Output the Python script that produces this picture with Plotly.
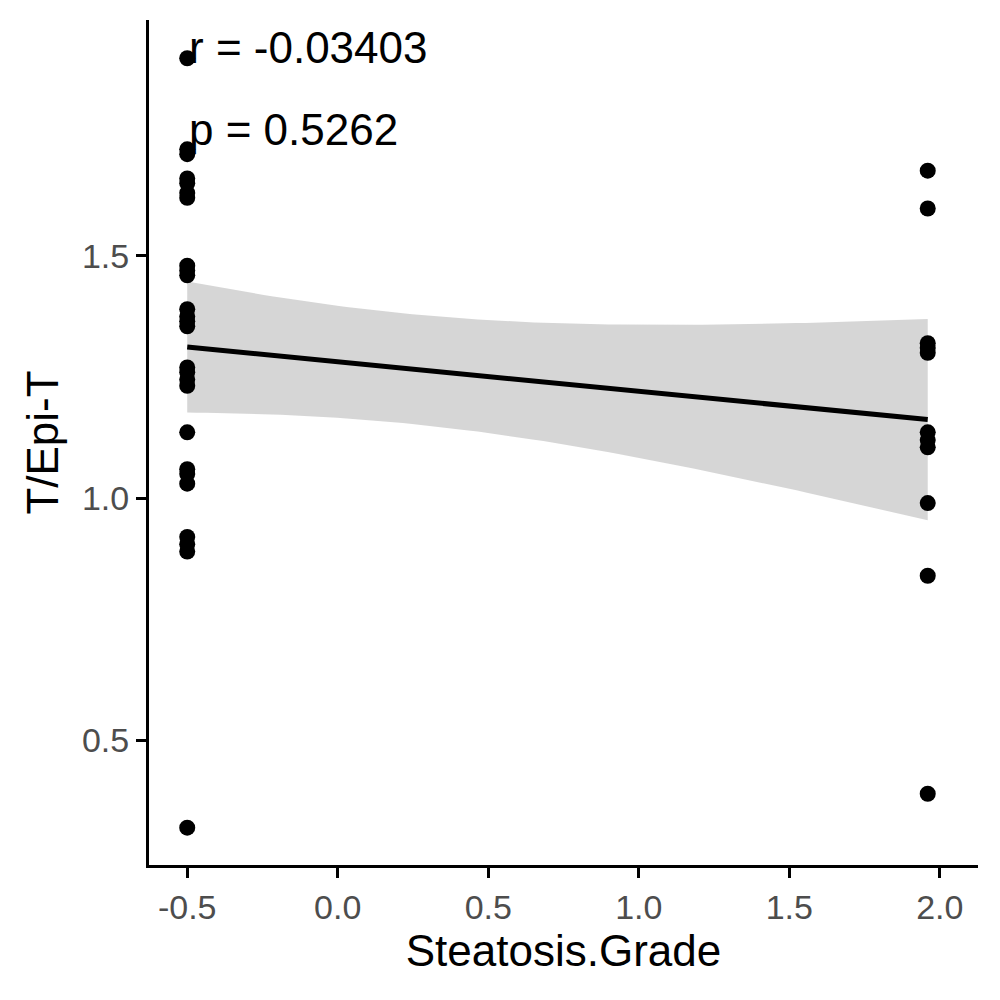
import numpy as np
import plotly.graph_objects as go

x_left = -0.5
x_right = 1.96
y_left = [1.908, 1.72, 1.71, 1.66, 1.65, 1.63, 1.62, 1.48, 1.47, 1.46, 1.39, 1.375, 1.365, 1.355,
          1.27, 1.26, 1.245, 1.232, 1.136, 1.06, 1.05, 1.03, 0.92, 0.905, 0.89, 0.32]
y_right = [1.676, 1.598, 1.32, 1.31, 1.30, 1.136, 1.12, 1.105, 0.99, 0.84, 0.39]
xs = np.array([x_left] * len(y_left) + [x_right] * len(y_right))
ys = np.array(y_left + y_right)

# linear fit with 95% CI
n = len(xs)
b, a = np.polyfit(xs, ys, 1)
res = ys - (a + b * xs)
s = np.sqrt((res ** 2).sum() / (n - 2))
xg = np.linspace(xs.min(), xs.max(), 80)
se = s * np.sqrt(1 / n + (xg - xs.mean()) ** 2 / ((xs - xs.mean()) ** 2).sum())
fit = a + b * xg
t = 1.99
lo, hi = fit - t * se, fit + t * se

fig = go.Figure()
fig.add_trace(go.Scatter(x=np.concatenate([xg, xg[::-1]]), y=np.concatenate([hi, lo[::-1]]),
                         fill="toself", fillcolor="rgba(153,153,153,0.4)", line=dict(width=0),
                         hoverinfo="skip", showlegend=False))
fig.add_trace(go.Scatter(x=xs, y=ys, mode="markers", marker=dict(color="black", size=16),
                         showlegend=False))
fig.add_trace(go.Scatter(x=xg, y=fit, mode="lines", line=dict(color="black", width=5),
                         showlegend=False))
fig.add_annotation(x=x_left, y=1.93, text="r = -0.03403", showarrow=False, xanchor="left",
                   font=dict(size=44, color="black"))
fig.add_annotation(x=x_left, y=1.76, text="p = 0.5262", showarrow=False, xanchor="left",
                   font=dict(size=44, color="black"))
ax = dict(showgrid=False, zeroline=False, showline=True, linecolor="black", linewidth=3,
          ticks="outside", ticklen=10, tickwidth=2.5, tickcolor="black",
          tickfont=dict(size=34, color="#4d4d4d"))
fig.update_layout(
    width=1000, height=1000, plot_bgcolor="white", paper_bgcolor="white",
    font=dict(family="Liberation Sans, Arial, sans-serif"),
    margin=dict(l=141, r=30, t=12, b=143),
    xaxis=dict(**ax, range=[-0.627, 2.127], tickvals=[-0.5, 0, 0.5, 1, 1.5, 2],
               ticktext=["-0.5", "0.0", "0.5", "1.0", "1.5", "2.0"],
               title=dict(text="Steatosis.Grade", font=dict(size=44, color="black"), standoff=10)),
    yaxis=dict(**ax, range=[0.243, 1.987], tickvals=[0.5, 1.0, 1.5],
               ticktext=["0.5", "1.0", "1.5"],
               title=dict(text="T/Epi-T", font=dict(size=44, color="black"), standoff=10)),
)
fig.write_html("out.html")
